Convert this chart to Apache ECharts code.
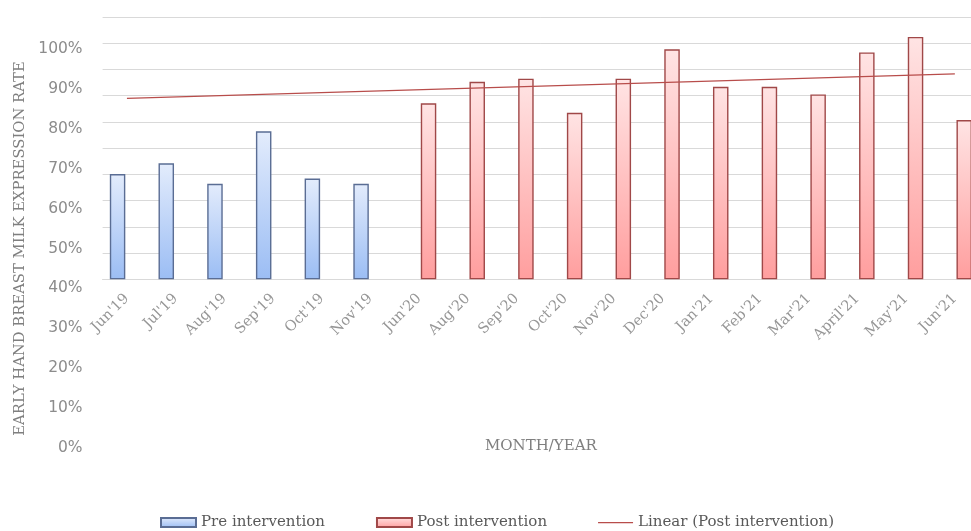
<!DOCTYPE html>
<html>
<head>
<meta charset="utf-8">
<script src="https://cdn.jsdelivr.net/npm/echarts@6/dist/echarts.min.js"></script>
<style>html,body{margin:0;padding:0;background:#fff;overflow:hidden}#c{width:980px;height:531px}</style>
</head>
<body>
<div id="c"></div>
<script>
var categories = ["Jun'19","Jul'19","Aug'19","Sep'19","Oct'19","Nov'19","Jun'20","Aug'20","Sep'20","Oct'20","Nov'20","Dec'20","Jan'21","Feb'21","Mar'21","April'21","May'21","Jun'21"];
var preValues  = [40.1, 44.2, 36.4, 56.4, 38.4, 36.4, null, null, null, null, null, null, null, null, null, null, null, null];
var postValues = [null, null, null, null, null, null, 67.1, 75.3, 76.5, 63.5, 76.5, 87.7, 73.4, 73.4, 70.5, 86.5, 92.4, 60.7];
var trendValues = [69.0, null, null, null, null, null, null, null, null, null, null, null, null, null, null, null, null, 78.3];
var yTicks = [0, 10, 20, 30, 40, 50, 60, 70, 80, 90, 100];

var chart = echarts.init(document.getElementById('c'), null, {renderer: 'canvas'});
var serif = 'DejaVu Serif';
var option = {
  animation: false,
  backgroundColor: '#fff',
  grid: [
    {left: 102.6, top: 17, right: 0.8, bottom: 251.7},
    {left: 102.6, top: 49, right: 0.8, height: 399}
  ],
  xAxis: [
    {
      type: 'category', gridIndex: 0, data: categories,
      axisLine: {lineStyle: {color: '#d9d9d9'}},
      axisTick: {show: false},
      axisLabel: {rotate: 45, interval: 0, margin: 17, color: '#969696', fontFamily: serif, fontSize: 14.5},
      name: 'MONTH/YEAR', nameLocation: 'middle', nameGap: 159,
      nameTextStyle: {color: '#7f7f7f', fontFamily: serif, fontSize: 15}
    },
    {type: 'category', gridIndex: 1, data: [], show: false}
  ],
  yAxis: [
    {
      type: 'value', gridIndex: 0, min: yTicks[0], max: yTicks[yTicks.length - 1], interval: 10,
      axisLabel: {show: false}, axisLine: {show: false}, axisTick: {show: false},
      splitLine: {lineStyle: {color: '#d9d9d9', width: 1}}
    },
    {
      type: 'value', gridIndex: 1, min: yTicks[0], max: yTicks[yTicks.length - 1], interval: 10,
      axisLine: {show: false}, axisTick: {show: false}, splitLine: {show: false},
      axisLabel: {formatter: '{value}%', color: '#8c8c8c', fontFamily: 'DejaVu Sans', fontSize: 15.5, margin: 20},
      name: 'EARLY HAND BREAST MILK EXPRESSION RATE', nameLocation: 'middle', nameGap: 75,
      nameTextStyle: {color: '#7f7f7f', fontFamily: serif, fontSize: 14.8}
    }
  ],
  legend: {
    left: 155, top: 510, itemWidth: 35, itemHeight: 9, itemGap: 51,
    textStyle: {color: '#595959', fontFamily: serif, fontSize: 15},
    data: [
      {name: 'Pre intervention', icon: 'rect'},
      {name: 'Post intervention', icon: 'rect'},
      {name: 'Linear (Post intervention)', icon: 'path://M0,0 M35,9 M0,4 L35,4 L35,5.2 L0,5.2 Z'}
    ]
  },
  series: [
    {
      name: 'Pre intervention', type: 'bar', xAxisIndex: 0, yAxisIndex: 0,
      data: preValues, barWidth: 15.5, barGap: '21%',
      itemStyle: {
        color: new echarts.graphic.LinearGradient(0, 0, 0, 1, [{offset: 0, color: '#e3ecfc'}, {offset: 1, color: '#9bbdf4'}]),
        borderColor: '#5a6d94', borderWidth: 1.4
      }
    },
    {
      name: 'Post intervention', type: 'bar', xAxisIndex: 0, yAxisIndex: 0,
      data: postValues, barWidth: 15.5, barGap: '21%',
      itemStyle: {
        color: new echarts.graphic.LinearGradient(0, 0, 0, 1, [{offset: 0, color: '#ffe4e4'}, {offset: 1, color: '#ff9e9e'}]),
        borderColor: '#a04848', borderWidth: 1.4
      }
    },
    {
      name: 'Linear (Post intervention)', type: 'line', xAxisIndex: 0, yAxisIndex: 0,
      data: trendValues, connectNulls: true, symbol: 'none',
      lineStyle: {color: '#b84d4b', width: 1.2},
      itemStyle: {color: '#b84d4b'},
      z: 5
    }
  ]
};
chart.setOption(option);
</script>
</body>
</html>
